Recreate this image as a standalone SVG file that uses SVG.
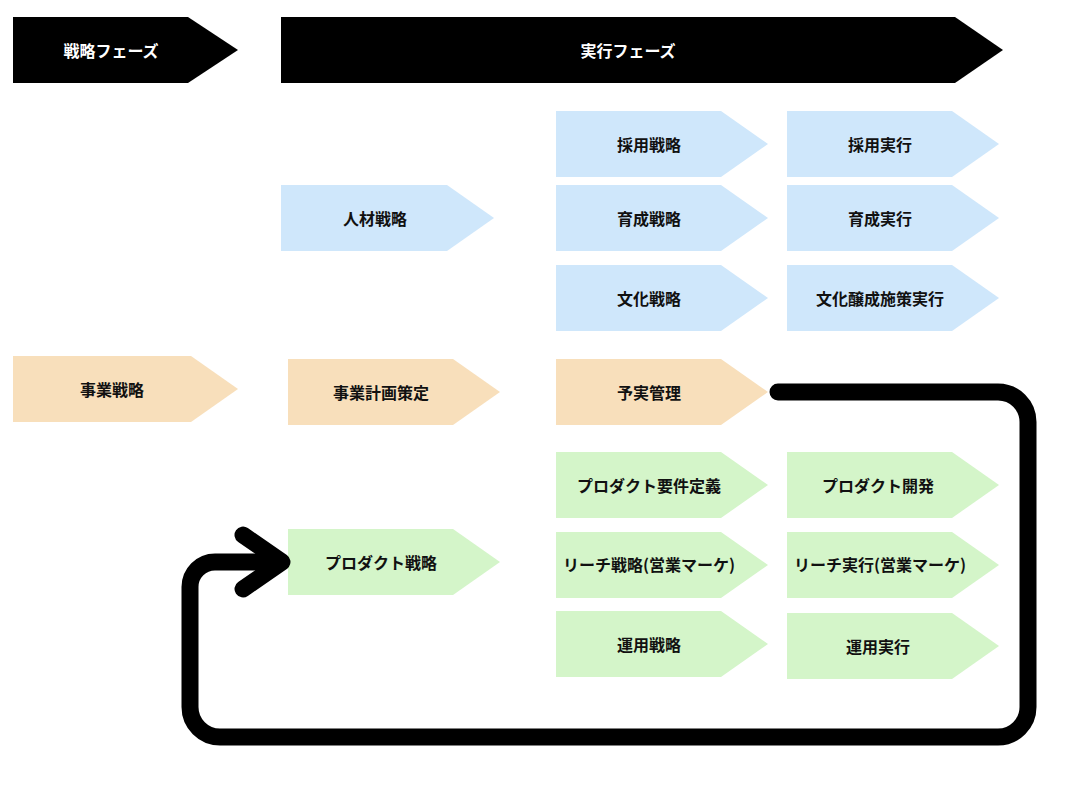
<svg xmlns="http://www.w3.org/2000/svg" width="1080" height="786" viewBox="0 0 1080 786">
<style>
text{font-family:"Noto Sans CJK JP","Noto Sans",sans-serif;font-size:16px;font-weight:bold;text-anchor:middle;dominant-baseline:central;fill:#111}
.phase{fill:#000}
.phase-t{fill:#fff;font-weight:bold}
.blue{fill:#cfe7fb}
.orange{fill:#f8dfbb}
.green{fill:#d4f5c9}
.conn{fill:none;stroke:#000;stroke-width:17;stroke-linecap:round;stroke-linejoin:round}
</style>
<rect width="1080" height="786" fill="#fff"/>
<g id="phase-strategy"><polygon class="phase" points="13,17 188,17 238,50 188,83 13,83"/><text class="phase-t" x="111" y="50">戦略フェーズ</text></g>
<g id="phase-exec"><polygon class="phase" points="281,17 955,17 1003,50 955,83 281,83"/><text class="phase-t" x="628" y="50">実行フェーズ</text></g>

<g id="n-saiyo-senryaku"><polygon class="blue" points="556,111 721,111 768,144 721,177 556,177"/><text x="649" y="144">採用戦略</text></g>
<g id="n-saiyo-jikko"><polygon class="blue" points="787,111 952,111 999,144 952,177 787,177"/><text x="880" y="144">採用実行</text></g>
<g id="n-jinzai"><polygon class="blue" points="281,185 447,185 494,218 447,251 281,251"/><text x="375" y="218">人材戦略</text></g>
<g id="n-ikusei-senryaku"><polygon class="blue" points="556,185 721,185 768,218 721,251 556,251"/><text x="649" y="218">育成戦略</text></g>
<g id="n-ikusei-jikko"><polygon class="blue" points="787,185 952,185 999,218 952,251 787,251"/><text x="880" y="218">育成実行</text></g>
<g id="n-bunka-senryaku"><polygon class="blue" points="556,265 721,265 768,298 721,331 556,331"/><text x="649" y="298">文化戦略</text></g>
<g id="n-bunka-jikko"><polygon class="blue" points="787,265 952,265 999,298 952,331 787,331"/><text x="880" y="298">文化醸成施策実行</text></g>

<g id="n-jigyo-senryaku"><polygon class="orange" points="13,356 191,356 238,389 191,422 13,422"/><text x="112" y="389">事業戦略</text></g>
<g id="n-jigyo-keikaku"><polygon class="orange" points="288,359 453,359 500,392 453,425 288,425"/><text x="381" y="392">事業計画策定</text></g>
<g id="n-yojitsu"><polygon class="orange" points="556,359 721,359 768,392 721,425 556,425"/><text x="649" y="392">予実管理</text></g>

<g id="n-product-req"><polygon class="green" points="556,452 721,452 768,485 721,518 556,518"/><text x="649" y="485">プロダクト要件定義</text></g>
<g id="n-product-dev"><polygon class="green" points="787,452 952,452 999,485 952,518 787,518"/><text x="878" y="485">プロダクト開発</text></g>
<g id="n-product-senryaku"><polygon class="green" points="288,529 453,529 500,562 453,595 288,595"/><text x="381" y="562">プロダクト戦略</text></g>
<g id="n-reach-senryaku"><polygon class="green" points="556,532 721,532 768,565 721,598 556,598"/><text x="649" y="564">リーチ戦略(営業マーケ)</text></g>
<g id="n-reach-jikko"><polygon class="green" points="787,532 952,532 999,565 952,598 787,598"/><text x="880" y="564">リーチ実行(営業マーケ)</text></g>
<g id="n-unyo-senryaku"><polygon class="green" points="556,611 721,611 768,644 721,677 556,677"/><text x="649" y="644">運用戦略</text></g>
<g id="n-unyo-jikko"><polygon class="green" points="787,613 952,613 999,646 952,679 787,679"/><text x="878" y="646">運用実行</text></g>

<g id="connectors">
<path class="conn" d="M 778 392 H 998 A 30 30 0 0 1 1028 422 V 707 A 30 30 0 0 1 998 737 H 220 A 30 30 0 0 1 190 707 V 587 A 25 25 0 0 1 215 562 H 280"/>
<path class="conn" d="M 243 535 L 282 562 L 243 589"/>
</g>
</svg>
